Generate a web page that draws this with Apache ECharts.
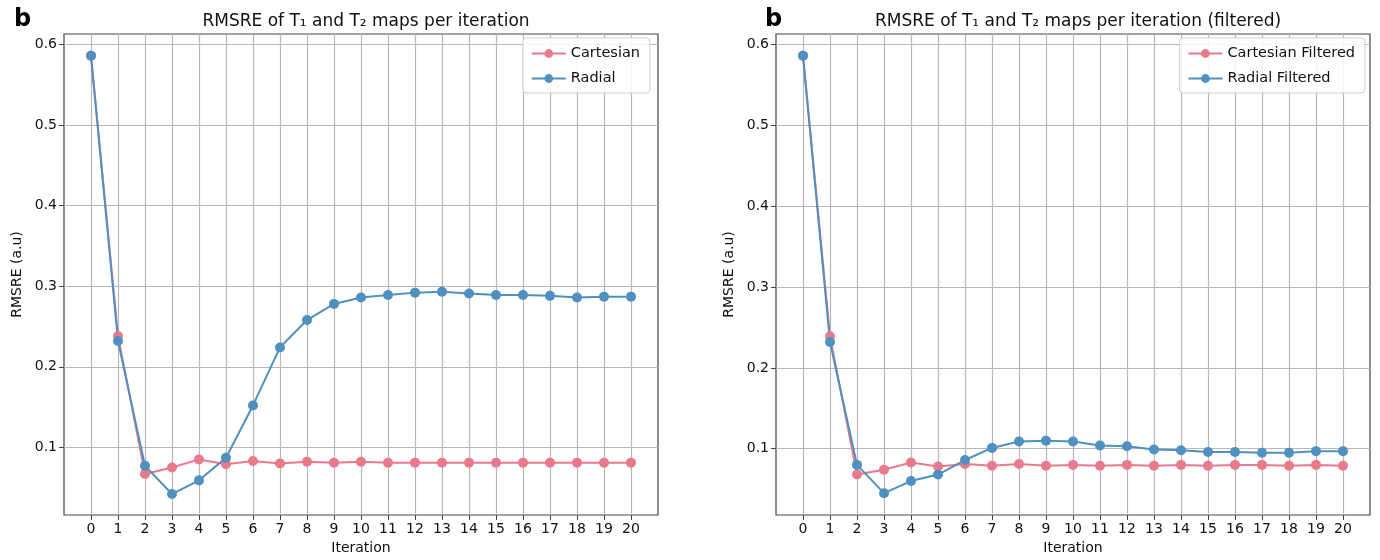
<!DOCTYPE html>
<html>
<head>
<meta charset="utf-8">
<script src="https://cdn.jsdelivr.net/npm/echarts@6/dist/echarts.min.js"></script>
<style>html,body{margin:0;padding:0;background:#fff;}#c{width:1380px;height:560px;}</style>
</head>
<body>
<div id="c"></div>
<script>
const iterations = [0,1,2,3,4,5,6,7,8,9,10,11,12,13,14,15,16,17,18,19,20];
const cartesian = [0.586,0.238,0.067,0.075,0.085,0.079,0.083,0.080,0.082,0.081,0.082,0.081,0.081,0.081,0.081,0.081,0.081,0.081,0.081,0.081,0.081];
const radial = [0.586,0.232,0.077,0.042,0.059,0.087,0.152,0.224,0.258,0.278,0.286,0.289,0.292,0.293,0.291,0.289,0.289,0.288,0.286,0.287,0.287];
const cartesianFiltered = [0.586,0.239,0.068,0.074,0.083,0.078,0.081,0.079,0.081,0.079,0.080,0.079,0.080,0.079,0.080,0.079,0.080,0.080,0.079,0.080,0.079];
const radialFiltered = [0.586,0.232,0.080,0.045,0.060,0.068,0.086,0.101,0.109,0.110,0.109,0.104,0.103,0.099,0.098,0.096,0.096,0.095,0.095,0.097,0.097];
const yTicks = [0.1,0.2,0.3,0.4,0.5,0.6];
const titles = ['RMSRE of T\u2081 and T\u2082 maps per iteration', 'RMSRE of T\u2081 and T\u2082 maps per iteration (filtered)'];
const names = [['Cartesian','Radial'],['Cartesian Filtered','Radial Filtered']];
const yName = 'RMSRE (a.u)';
const xName = 'Iteration';
const panelLetter = 'b';

const RED = '#e97a8b', BLUE = '#4f90c0';
const FONT = 'DejaVu Sans';
const grids = [
  {left: 64, right: 722, top: 34, bottom: 38},
  {left: 776, right: 10, top: 34, bottom: 38}
];
const yRanges = [[0.016, 0.613],[0.018, 0.613]];

function pairs(arr){ return iterations.map((x,i)=>[x, arr[i]]); }

const option = {
  animation: false,
  backgroundColor: '#fff',
  textStyle: {fontFamily: FONT},
  title: [
    {text: panelLetter, left: 9, top: 3, textStyle:{fontFamily: FONT, fontSize: 24, fontWeight:'bold', color:'#000'}},
    {text: panelLetter, left: 760, top: 3, textStyle:{fontFamily: FONT, fontSize: 24, fontWeight:'bold', color:'#000'}},
    {text: titles[0], left: 361, top: 8, textAlign:'center', textStyle:{fontFamily: FONT, fontSize: 17, fontWeight:'normal', color:'#111'}},
    {text: titles[1], left: 1073, top: 8, textAlign:'center', textStyle:{fontFamily: FONT, fontSize: 17, fontWeight:'normal', color:'#111'}}
  ],
  legend: [0,1].map(k => ({
    data: names[k],
    orient: 'vertical',
    right: k===0 ? 730 : 15,
    top: 38,
    itemWidth: 34, itemHeight: 11, itemGap: 10,
    padding: [8,10,7,8],
    backgroundColor: 'rgba(255,255,255,0.85)',
    borderColor: '#d0d0d0', borderWidth: 1, borderRadius: 4,
    textStyle: {fontFamily: FONT, fontSize: 14.5, color: '#111'}
  })),
  grid: grids.map(g => Object.assign({show: true, borderColor: '#444', borderWidth: 1.2, backgroundColor:'#fff'}, g)),
  xAxis: [0,1].map(k => ({
    type: 'value', gridIndex: k, min: -1, max: 21, interval: 1,
    name: xName, nameLocation: 'middle', nameGap: 26,
    nameTextStyle: {fontFamily: FONT, fontSize: 14, color:'#111'},
    axisLine: {show: false, onZero: false},
    axisTick: {show: true, length: 5, lineStyle:{color:'#444'}, customValues: iterations},
    axisLabel: {customValues: iterations, margin: 7, fontFamily: FONT, fontSize: 14, color:'#111'},
    splitLine: {show: true, lineStyle: {color:'#b8b8b8', width: 1.2}}
  })),
  yAxis: [0,1].map(k => ({
    type: 'value', gridIndex: k, min: yRanges[k][0], max: yRanges[k][1],
    name: yName, nameLocation: 'middle', nameGap: 40, nameRotate: 90,
    nameTextStyle: {fontFamily: FONT, fontSize: 14, color:'#111'},
    axisLine: {show: false, onZero: false},
    axisTick: {show: true, length: 5, lineStyle:{color:'#444'}, customValues: yTicks},
    axisLabel: {customValues: yTicks, margin: 7, fontFamily: FONT, fontSize: 14, color:'#111', formatter: v => (+v).toFixed(1)},
    splitLine: {show: true, lineStyle: {color:'#b8b8b8', width: 1.2}}
  })),
  series: [
    {name: names[0][0], type:'line', xAxisIndex:0, yAxisIndex:0, data: pairs(cartesian), color: RED},
    {name: names[0][1], type:'line', xAxisIndex:0, yAxisIndex:0, data: pairs(radial), color: BLUE},
    {name: names[1][0], type:'line', xAxisIndex:1, yAxisIndex:1, data: pairs(cartesianFiltered), color: RED},
    {name: names[1][1], type:'line', xAxisIndex:1, yAxisIndex:1, data: pairs(radialFiltered), color: BLUE}
  ].map(s => Object.assign(s, {symbol:'circle', symbolSize: 10, showSymbol: true, lineStyle:{width: 2}, itemStyle:{color: s.color}}))
};
const chart = echarts.init(document.getElementById('c'), null, {renderer:'canvas'});
chart.setOption(option);
</script>
</body>
</html>
